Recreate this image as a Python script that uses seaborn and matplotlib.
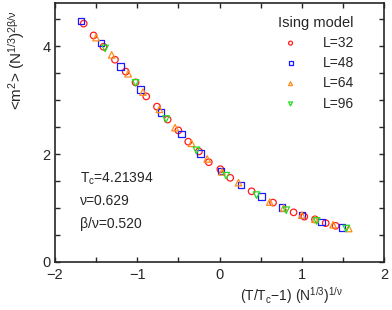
import matplotlib
matplotlib.use("Agg")
import matplotlib.pyplot as plt
from matplotlib.ticker import MultipleLocator
import seaborn as sns

# scaled data: x = (T/Tc-1) N^(1/3nu), y = <m^2> N^(2beta/3nu)
x_32 = [-1.65, -1.53, -1.41, -1.27, -1.14, -1.02, -0.89, -0.76, -0.63, -0.50, -0.38,
        -0.25, -0.13, 0.01, 0.13, 0.39, 0.65, 0.90, 1.03, 1.16, 1.29, 1.41]
y_32 = [4.42, 4.20, 3.99, 3.75, 3.53, 3.33, 3.07, 2.88, 2.64, 2.44, 2.23,
        2.05, 1.85, 1.72, 1.56, 1.31, 1.10, 0.92, 0.84, 0.79, 0.72, 0.67]
x_48 = [-1.68, -1.44, -1.20, -0.96, -0.71, -0.46, -0.23, 0.02, 0.26, 0.51, 0.76, 1.00, 1.24, 1.49]
y_48 = [4.47, 4.06, 3.62, 3.20, 2.77, 2.37, 2.01, 1.69, 1.43, 1.21, 1.01, 0.87, 0.74, 0.64]
x_64 = [-1.50, -1.31, -1.11, -0.93, -0.73, -0.54, -0.34, -0.15, 0.03, 0.23,
        0.61, 0.78, 1.00, 1.16, 1.38, 1.57]
y_64 = [4.16, 3.84, 3.49, 3.15, 2.83, 2.49, 2.20, 1.91, 1.67, 1.47,
        1.11, 1.00, 0.87, 0.79, 0.69, 0.62]
x_96 = [-1.39, -1.02, -0.65, -0.28, 0.08, 0.45, 0.81, 1.18, 1.54]
y_96 = [3.96, 3.32, 2.65, 2.07, 1.60, 1.24, 0.96, 0.76, 0.62]

labels = ["L=32", "L=48", "L=64", "L=96"]
colors = ["#ff1a1a", "#1a1aff", "#ff8c1a", "#22dd22"]
markers = ["o", "s", "^", "v"]

sns.set_style("ticks")
plt.rcParams["font.family"] = ["Liberation Sans", "DejaVu Sans"]
plt.rcParams["mathtext.fontset"] = "custom"
plt.rcParams["mathtext.rm"] = "Liberation Sans"
plt.rcParams["mathtext.it"] = "Liberation Sans"
plt.rcParams["mathtext.default"] = "regular"

fig = plt.figure(figsize=(3.92, 3.10), dpi=100)
ax = fig.add_axes([0.140, 0.155, 0.840, 0.835])

series = [(x_32, y_32), (x_48, y_48), (x_64, y_64), (x_96, y_96)]
for (xs, ys), lab, col, mk in zip(series, labels, colors, markers):
    sns.scatterplot(x=xs, y=ys, ax=ax, marker=mk, s=22, facecolors="none",
                    edgecolor=col, color=col, linewidth=0.9, label=lab)

ax.set_xlim(-2, 2)
ax.set_ylim(0, 4.8)
ax.xaxis.set_major_locator(MultipleLocator(1))
ax.xaxis.set_minor_locator(MultipleLocator(0.5))
ax.yaxis.set_major_locator(MultipleLocator(2))
ax.yaxis.set_minor_locator(MultipleLocator(0.5))
ax.tick_params(which="both", direction="in", top=True, right=True,
               length=3.5, width=1, labelsize=10.5)
ax.tick_params(axis="x", pad=4.5)
ax.tick_params(axis="y", pad=3)
for sp in ax.spines.values():
    sp.set_linewidth(1.2)

ax.set_xlabel(r"(T/T$_c$−1) (N$^{1/3}$)$^{1/ν}$", fontsize=10)
ax.xaxis.set_label_coords(0.72, -0.09)
ax.set_ylabel(r"<m$^2$> (N$^{1/3}$)$^{2β/ν}$", fontsize=11, loc="top")
ax.yaxis.set_label_coords(-0.085, 0.975)

ax.text(-1.70, 1.55, r"T$_c$=4.21394", fontsize=10, va="center")
ax.text(-1.70, 1.13, "ν=0.629", fontsize=10, va="center")
ax.text(-1.70, 0.70, "β/ν=0.520", fontsize=10, va="center")

leg = ax.legend(title="Ising model", loc="upper right", bbox_to_anchor=(0.908, 0.952),
                frameon=False, fontsize=10, title_fontsize=10.5, handletextpad=1.3,
                labelspacing=0.45, markerscale=0.6, borderaxespad=0, borderpad=0)

fig.savefig("out.png", dpi=100)
